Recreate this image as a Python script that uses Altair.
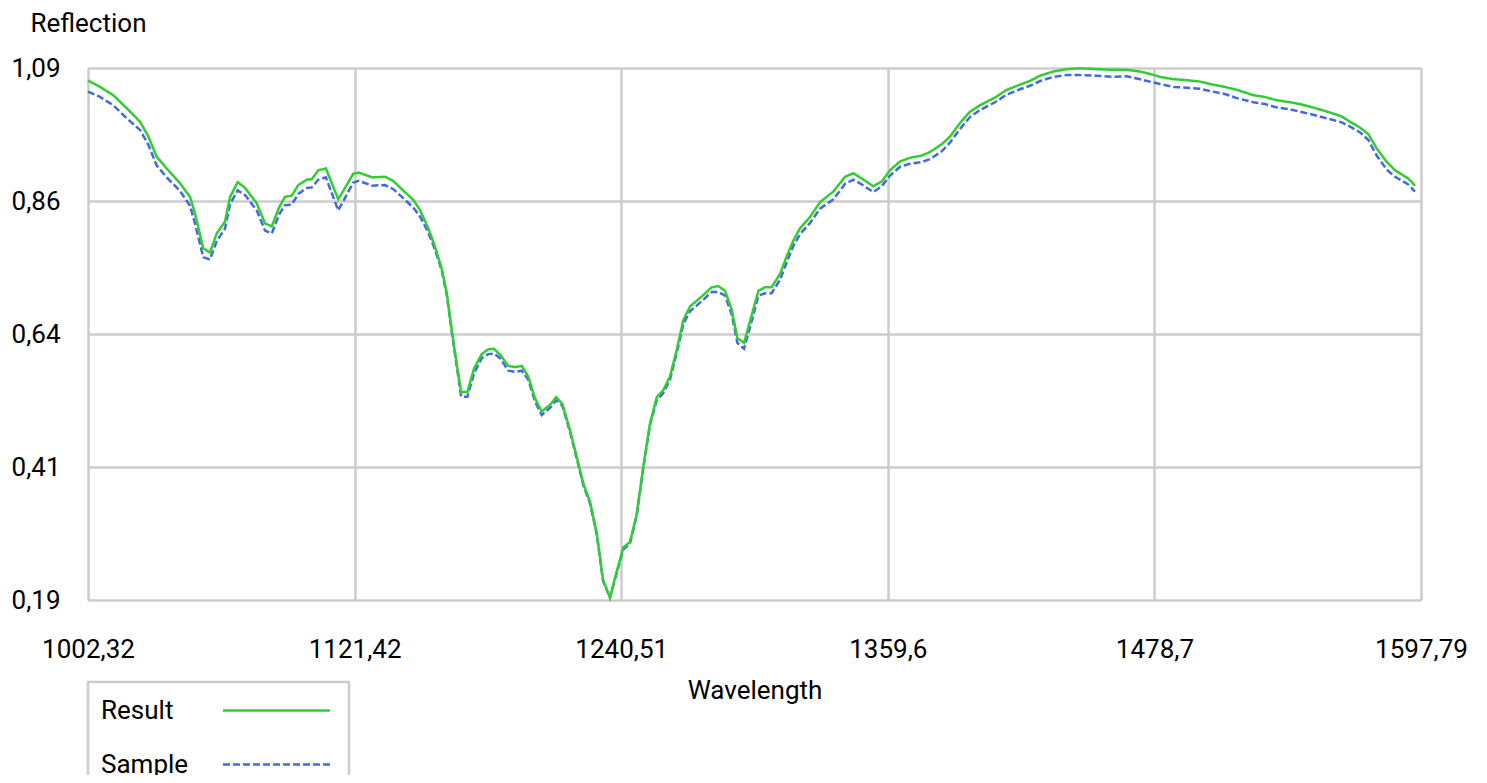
import altair as alt
import pandas as pd

wavelength = [
    1002.3, 1007.7, 1013.6, 1019.6, 1025.6, 1029.3, 1033.0, 1037.5, 1043.4, 1047.9,
    1050.1, 1053.8, 1056.8, 1059.8, 1063.5, 1065.8, 1069.2, 1072.5, 1077.7, 1081.4,
    1084.4, 1087.8, 1090.3, 1093.3, 1096.3, 1100.0, 1102.3, 1105.2, 1108.6, 1114.1,
    1117.1, 1120.8, 1123.3, 1129.2, 1135.0, 1138.7, 1142.5, 1147.6, 1150.6, 1154.3,
    1157.3, 1160.3, 1162.6, 1164.8, 1167.0, 1169.0, 1171.8, 1174.8, 1178.2, 1181.1,
    1183.7, 1186.4, 1190.1, 1193.1, 1196.1, 1199.0, 1202.0, 1205.0, 1208.7, 1211.4,
    1214.2, 1217.6, 1221.4, 1223.6, 1226.6, 1229.6, 1232.4, 1235.5, 1238.5, 1241.5,
    1244.4, 1247.4, 1250.4, 1253.4, 1256.4, 1259.3, 1262.3, 1265.3, 1268.3, 1271.3,
    1274.2, 1277.2, 1280.9, 1283.9, 1286.9, 1289.9, 1292.4, 1295.4, 1298.8, 1301.8,
    1304.8, 1307.7, 1311.5, 1314.4, 1317.4, 1320.4, 1324.9, 1329.3, 1335.3, 1340.5,
    1344.2, 1348.0, 1353.1, 1356.9, 1360.6, 1365.1, 1369.5, 1374.8, 1378.5, 1383.7,
    1387.4, 1391.9, 1396.3, 1400.8, 1407.5, 1412.7, 1418.7, 1423.1, 1427.6, 1433.5,
    1439.5, 1445.5, 1452.9, 1460.3, 1466.3, 1472.3, 1477.6, 1481.2, 1487.2, 1491.6,
    1499.1, 1503.5, 1510.2, 1515.5, 1522.9, 1528.1, 1532.6, 1539.3, 1543.7, 1549.7,
    1553.4, 1558.6, 1562.4, 1566.1, 1570.6, 1574.3, 1578.0, 1582.5, 1586.2, 1592.1,
    1595.1,
]

result = [
    1.069, 1.058, 1.044, 1.022, 0.999, 0.974, 0.940, 0.920, 0.895, 0.872,
    0.844, 0.785, 0.778, 0.810, 0.830, 0.872, 0.897, 0.887, 0.861, 0.827,
    0.822, 0.855, 0.872, 0.874, 0.892, 0.901, 0.902, 0.917, 0.920, 0.868,
    0.887, 0.911, 0.913, 0.905, 0.906, 0.899, 0.885, 0.867, 0.850, 0.819,
    0.788, 0.751, 0.709, 0.647, 0.590, 0.542, 0.542, 0.582, 0.606, 0.614,
    0.615, 0.605, 0.586, 0.584, 0.586, 0.568, 0.531, 0.509, 0.520, 0.533,
    0.522, 0.478, 0.421, 0.387, 0.356, 0.303, 0.224, 0.194, 0.238, 0.279,
    0.288, 0.334, 0.416, 0.489, 0.533, 0.545, 0.568, 0.613, 0.664, 0.687,
    0.696, 0.706, 0.719, 0.721, 0.713, 0.681, 0.633, 0.625, 0.672, 0.713,
    0.719, 0.719, 0.742, 0.771, 0.798, 0.819, 0.838, 0.863, 0.881, 0.906,
    0.912, 0.903, 0.890, 0.898, 0.917, 0.932, 0.938, 0.942, 0.948, 0.961,
    0.974, 0.997, 1.016, 1.027, 1.040, 1.053, 1.062, 1.068, 1.077, 1.084,
    1.088, 1.0895, 1.088, 1.087, 1.087, 1.084, 1.079, 1.075, 1.071, 1.070,
    1.067, 1.063, 1.058, 1.053, 1.044, 1.041, 1.036, 1.032, 1.029, 1.023,
    1.019, 1.013, 1.008, 0.999, 0.989, 0.978, 0.954, 0.931, 0.917, 0.903,
    0.891,
]

sample = [
    1.050, 1.041, 1.027, 1.005, 0.985, 0.960, 0.925, 0.905, 0.882, 0.857,
    0.827, 0.770, 0.766, 0.797, 0.818, 0.860, 0.883, 0.875, 0.849, 0.815,
    0.810, 0.843, 0.858, 0.859, 0.877, 0.887, 0.888, 0.901, 0.905, 0.849,
    0.870, 0.896, 0.899, 0.891, 0.892, 0.885, 0.872, 0.854, 0.839, 0.812,
    0.783, 0.748, 0.706, 0.644, 0.587, 0.534, 0.534, 0.574, 0.599, 0.606,
    0.607, 0.599, 0.578, 0.576, 0.578, 0.563, 0.526, 0.503, 0.515, 0.528,
    0.519, 0.475, 0.418, 0.384, 0.353, 0.301, 0.222, 0.194, 0.236, 0.276,
    0.285, 0.332, 0.414, 0.487, 0.528, 0.540, 0.563, 0.608, 0.657, 0.679,
    0.688, 0.698, 0.711, 0.711, 0.705, 0.673, 0.625, 0.615, 0.662, 0.705,
    0.709, 0.709, 0.732, 0.761, 0.789, 0.809, 0.828, 0.852, 0.868, 0.894,
    0.901, 0.893, 0.880, 0.890, 0.908, 0.923, 0.928, 0.931, 0.936, 0.949,
    0.964, 0.987, 1.007, 1.019, 1.032, 1.045, 1.054, 1.060, 1.068, 1.075,
    1.078, 1.078, 1.077, 1.075, 1.076, 1.071, 1.066, 1.063, 1.058, 1.057,
    1.055, 1.051, 1.046, 1.039, 1.032, 1.029, 1.024, 1.020, 1.016, 1.011,
    1.007, 1.002, 0.998, 0.991, 0.981, 0.968, 0.942, 0.918, 0.906, 0.893,
    0.881,
]

series_names = ["Result", "Sample"]
series_colors = ["#32CD32", "#4169E1"]
series_dashes = [[1, 0], [7, 3]]
x_ticks = [1002.32, 1121.42, 1240.51, 1359.6, 1478.7, 1597.79]
y_ticks = [0.19, 0.415, 0.64, 0.865, 1.09]

df = pd.concat([
    pd.DataFrame({"Wavelength": wavelength, "Reflection": result, "Series": "Result"}),
    pd.DataFrame({"Wavelength": wavelength, "Reflection": sample, "Series": "Sample"}),
])

x_enc = alt.X(
    "Wavelength:Q",
    title="Wavelength",
    scale=alt.Scale(domain=[x_ticks[0], x_ticks[-1]], nice=False, zero=False),
    axis=alt.Axis(
        values=x_ticks,
        labelExpr="replace(toString(datum.value), '.', ',')",
        grid=True, gridColor="#cccccc", gridWidth=2.5,
        domain=False, ticks=False, tickSize=0,
        labelPadding=57, labelBaseline="alphabetic",
        labelFlush=False, labelOverlap=False,
        titleY=98, titleBaseline="alphabetic",
    ),
)
y_enc = alt.Y(
    "Reflection:Q",
    title="Reflection",
    scale=alt.Scale(domain=[y_ticks[0], y_ticks[-1]], nice=False, zero=False),
    axis=alt.Axis(
        values=y_ticks,
        labelExpr="replace(format(datum.value, '.2f'), '.', ',')",
        grid=True, gridColor="#cccccc", gridWidth=2.5,
        domain=False, ticks=False, tickSize=0,
        labelPadding=28, labelFlush=False, labelOverlap=False,
        titleAngle=0, titleAlign="left", titleBaseline="alphabetic",
        titleX=-58, titleY=-37,
    ),
)


def make_legend():
    # a wide custom line symbol on a small nominal size keeps the rows compact,
    # symbol drawn to the right of its label as in the reference
    return alt.Legend(
        title=None, orient="none", legendX=0, legendY=614,
        symbolType="M-4.115,0H4.115", symbolSize=676, symbolStrokeWidth=2.5,
        symbolOffset=160, labelOffset={"expr": "-190"},
        rowPadding=26, padding=14, strokeColor="#cccccc",
    )


color_enc = alt.Color(
    "Series:N",
    scale=alt.Scale(domain=series_names, range=series_colors),
    legend=make_legend(),
)
dash_enc = alt.StrokeDash(
    "Series:N",
    scale=alt.Scale(domain=series_names, range=series_dashes),
    legend=make_legend(),
)

base = alt.Chart(df).mark_line(strokeWidth=2.5).encode(
    x=x_enc, y=y_enc, color=color_enc, strokeDash=dash_enc
)
sample_layer = base.transform_filter(alt.datum.Series == "Sample")
result_layer = base.transform_filter(alt.datum.Series == "Result")

chart = alt.layer(sample_layer, result_layer).properties(
    width=1333,
    height=532,
    autosize=alt.AutoSizeParams(type="none"),
    padding={"left": 80, "top": 60, "right": 50, "bottom": 175},
).configure_view(stroke=None).configure(
    font="Roboto"
).configure_axis(
    labelFont="Roboto", labelFontSize=26, labelColor="#000000",
    titleFont="Roboto", titleFontSize=26, titleColor="#000000", titleFontWeight="normal",
).configure_legend(
    labelFont="Roboto", labelFontSize=26, labelColor="#000000", strokeWidth=2.5,
)

chart.save("out.html", embed_options={"renderer": "svg", "actions": False})
